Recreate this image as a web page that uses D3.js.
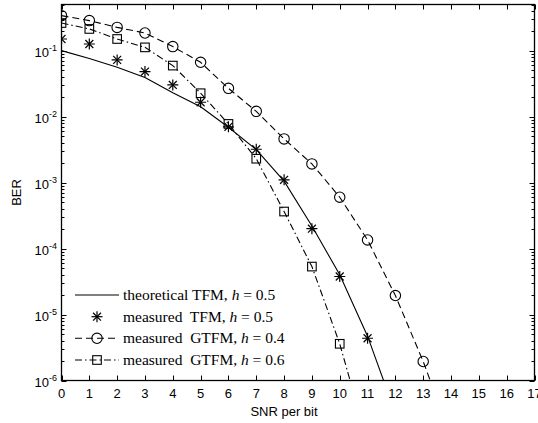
<!DOCTYPE html>
<html>
<head>
<meta charset="utf-8">
<script src="https://cdn.jsdelivr.net/npm/d3@7"></script>
<style>
  html, body { margin: 0; padding: 0; background: #fff; }
  svg { display: block; }
  .tick-label { font-family: "Liberation Sans", Arial, sans-serif; font-size: 13px; fill: #000; }
  .legend-text { font-family: "Liberation Serif", "Times New Roman", serif; font-size: 15.5px; fill: #000; white-space: pre; }
</style>
</head>
<body>
<svg id="chart" width="538" height="423"></svg>
<script>
// SNR per bit (dB) at which each curve is sampled
const snrTheory = [0, 1, 2, 3, 4, 5, 6, 7, 8, 9, 10, 11, 12];
const berTheoryTFM = [0.1, 0.076, 0.056, 0.039, 0.023, 0.0141, 0.0069, 0.00316, 0.00105, 2.2e-4, 4.0e-5, 4.7e-6, 3.2e-7];

const snrMeasTFM = [0, 1, 2, 3, 4, 5, 6, 7, 8, 9, 10, 11];
const berMeasTFM = [0.150, 0.126, 0.0723, 0.0481, 0.0302, 0.0165, 0.0070, 0.0032, 0.0011, 2.0e-4, 3.77e-5, 4.37e-6];

const snrGTFM04 = [0, 1, 2, 3, 4, 5, 6, 7, 8, 9, 10, 11, 12, 13, 14];
const berGTFM04 = [0.339, 0.285, 0.225, 0.185, 0.115, 0.0665, 0.0268, 0.012, 0.00459, 0.00192, 6.0e-4, 1.35e-4, 1.94e-5, 1.94e-6, 1.4e-7];

const snrGTFM06 = [0, 1, 2, 3, 4, 5, 6, 7, 8, 9, 10, 11];
const berGTFM06 = [0.262, 0.213, 0.150, 0.112, 0.0593, 0.0226, 0.00774, 0.0023, 3.64e-4, 5.33e-5, 3.6e-6, 1.15e-7];

const xTicks = [0, 1, 2, 3, 4, 5, 6, 7, 8, 9, 10, 11, 12, 13, 14, 15, 16, 17];
const yDecades = [-6, -5, -4, -3, -2, -1];

const legendLabels = [
  ["theoretical TFM, ", "h", " = 0.5"],
  ["measured  TFM, ", "h", " = 0.5"],
  ["measured  GTFM, ", "h", " = 0.4"],
  ["measured  GTFM, ", "h", " = 0.6"]
];

const svg = d3.select("#chart");
const plotLeft = 61.5, plotRight = 534.5, plotTop = 4.5, plotBottom = 380.5;

const x = d3.scaleLinear().domain([0, 17]).range([plotLeft, plotRight]);
const y = d3.scaleLog().domain([1e-6, 0.5]).range([plotBottom, plotTop]);

svg.append("defs").append("clipPath").attr("id", "plot-clip")
  .append("rect").attr("x", plotLeft).attr("y", plotTop)
  .attr("width", plotRight - plotLeft).attr("height", plotBottom - plotTop);

// Ticks: integers on top/bottom, log decades with minor ticks on left/right
const tickG = svg.append("g").attr("stroke", "#000").attr("stroke-width", 1);
xTicks.forEach(t => {
  const px = Math.round(x(t)) + 0.5;
  tickG.append("line").attr("x1", px).attr("x2", px).attr("y1", plotBottom).attr("y2", plotBottom - 5);
  tickG.append("line").attr("x1", px).attr("x2", px).attr("y1", plotTop).attr("y2", plotTop + 5);
});
const yMinor = [];
yDecades.forEach(d => {
  for (let m = 1; m <= 9; m++) {
    const v = m * Math.pow(10, d);
    if (v <= 0.5) yMinor.push({ v, major: m === 1 });
  }
});
yMinor.forEach(({ v, major }) => {
  const py = Math.round(y(v)) + 0.5;
  const len = major ? 5 : 3;
  tickG.append("line").attr("x1", plotLeft).attr("x2", plotLeft + len).attr("y1", py).attr("y2", py);
  tickG.append("line").attr("x1", plotRight).attr("x2", plotRight - len).attr("y1", py).attr("y2", py);
});

// Axes box
svg.append("rect").attr("x", plotLeft).attr("y", plotTop)
  .attr("width", plotRight - plotLeft).attr("height", plotBottom - plotTop)
  .attr("fill", "none").attr("stroke", "#000").attr("stroke-width", 1.3);

// Tick labels
svg.append("g").selectAll("text").data(xTicks).join("text")
  .attr("class", "tick-label")
  .attr("x", d => x(d)).attr("y", 398)
  .attr("text-anchor", "middle")
  .text(d => d);

const yLab = svg.append("g").selectAll("text").data(yDecades).join("text")
  .attr("class", "tick-label")
  .attr("x", 57).attr("y", d => y(Math.pow(10, d)) + 6)
  .attr("text-anchor", "end");
yLab.append("tspan").text("10");
yLab.append("tspan").attr("dy", -6).attr("font-size", 9).text(d => d);

// Axis titles
svg.append("text").attr("class", "tick-label")
  .attr("x", 284).attr("y", 416).attr("text-anchor", "middle").text("SNR per bit");
svg.append("text").attr("class", "tick-label")
  .attr("transform", `translate(21,${(plotTop + plotBottom) / 2}) rotate(-90)`)
  .attr("text-anchor", "middle").text("BER");

// Curves
const plot = svg.append("g").attr("clip-path", "url(#plot-clip)");
const line = d3.line().x(d => x(d[0])).y(d => y(d[1]));

const zip = (a, b) => a.map((v, i) => [v, b[i]]);
const theory = zip(snrTheory, berTheoryTFM);
const measTFM = zip(snrMeasTFM, berMeasTFM);
const g04 = zip(snrGTFM04, berGTFM04);
const g06 = zip(snrGTFM06, berGTFM06);

plot.append("path").attr("d", line(theory)).attr("fill", "none").attr("stroke", "#000").attr("stroke-width", 1.1);
plot.append("path").attr("d", line(g04)).attr("fill", "none").attr("stroke", "#000").attr("stroke-width", 1.1)
  .attr("stroke-dasharray", "7,4");
plot.append("path").attr("d", line(g06)).attr("fill", "none").attr("stroke", "#000").attr("stroke-width", 1.1)
  .attr("stroke-dasharray", "7,3,1.5,3");

// Marker drawers
function star(g, cx, cy, r) {
  const s = g.append("g").attr("stroke", "#000").attr("stroke-width", 1.2);
  const d = r * 0.72;
  s.append("line").attr("x1", cx - r).attr("x2", cx + r).attr("y1", cy).attr("y2", cy);
  s.append("line").attr("x1", cx).attr("x2", cx).attr("y1", cy - r).attr("y2", cy + r);
  s.append("line").attr("x1", cx - d).attr("x2", cx + d).attr("y1", cy - d).attr("y2", cy + d);
  s.append("line").attr("x1", cx - d).attr("x2", cx + d).attr("y1", cy + d).attr("y2", cy - d);
}
function circle(g, cx, cy) {
  g.append("circle").attr("cx", cx).attr("cy", cy).attr("r", 5.2)
    .attr("fill", "none").attr("stroke", "#000").attr("stroke-width", 1.1);
}
function square(g, cx, cy) {
  g.append("rect").attr("x", cx - 4.3).attr("y", cy - 4.3).attr("width", 8.6).attr("height", 8.6)
    .attr("fill", "none").attr("stroke", "#000").attr("stroke-width", 1.1);
}

const inside = d => d[1] >= 1e-6 && d[1] <= 0.5;
measTFM.filter(inside).forEach(d => star(plot, x(d[0]), y(d[1]), 5.5));
g04.filter(inside).forEach(d => circle(plot, x(d[0]), y(d[1])));
g06.filter(inside).forEach(d => square(plot, x(d[0]), y(d[1])));

// Legend
const legX0 = 75, legX1 = 119, legTextX = 123;
const legY = [295, 316.7, 338.3, 360];
const leg = svg.append("g");
legY.forEach((ly, i) => {
  const mid = (legX0 + legX1) / 2;
  if (i === 0) {
    leg.append("line").attr("x1", legX0).attr("x2", legX1).attr("y1", ly).attr("y2", ly)
      .attr("stroke", "#000").attr("stroke-width", 1.1);
  } else if (i === 1) {
    star(leg, mid, ly, 5.5);
  } else if (i === 2) {
    leg.append("line").attr("x1", legX0).attr("x2", legX1).attr("y1", ly).attr("y2", ly)
      .attr("stroke", "#000").attr("stroke-width", 1.1).attr("stroke-dasharray", "7,4");
    circle(leg, mid, ly);
  } else {
    leg.append("line").attr("x1", legX0).attr("x2", legX1).attr("y1", ly).attr("y2", ly)
      .attr("stroke", "#000").attr("stroke-width", 1.1).attr("stroke-dasharray", "7,3,1.5,3");
    square(leg, mid, ly);
  }
  const t = leg.append("text").attr("class", "legend-text").attr("x", legTextX).attr("y", ly + 5);
  t.append("tspan").text(legendLabels[i][0]);
  t.append("tspan").attr("font-style", "italic").text(legendLabels[i][1]);
  t.append("tspan").text(legendLabels[i][2]);
});
</script>
</body>
</html>
